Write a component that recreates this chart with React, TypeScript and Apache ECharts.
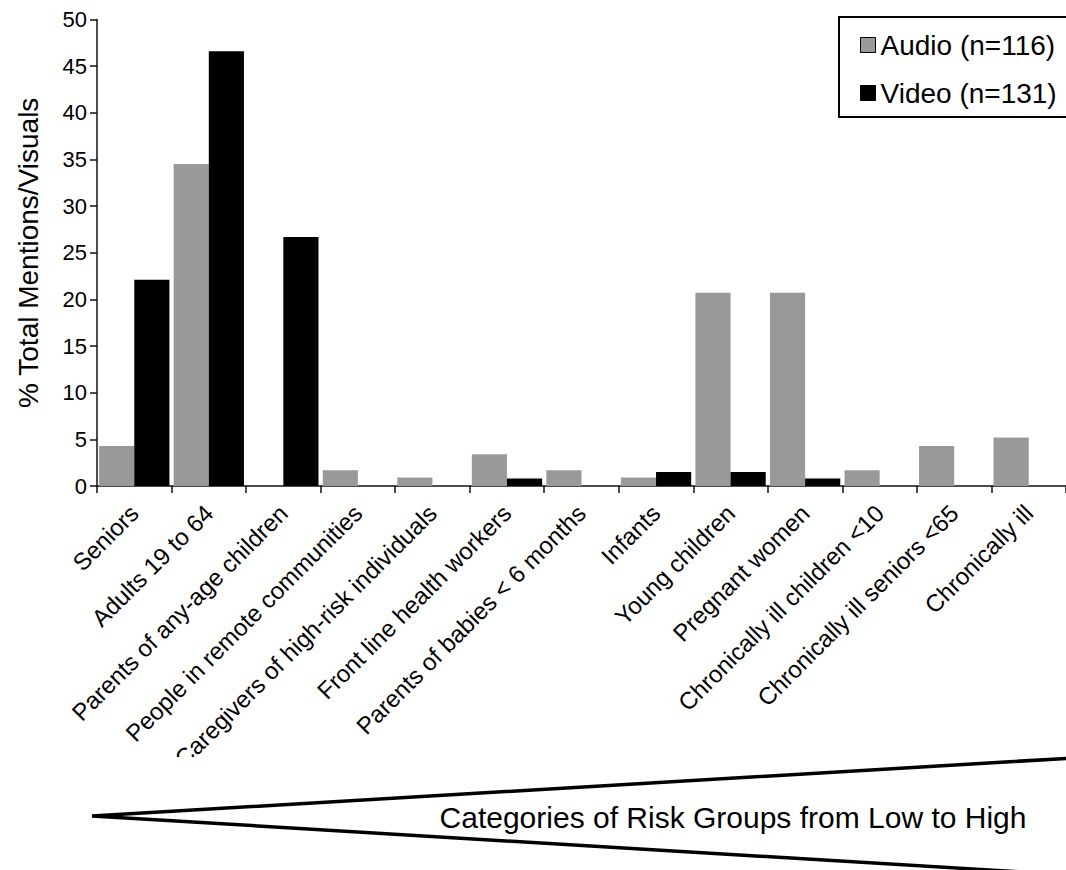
import React, { useEffect, useRef } from "react";
import * as echarts from "echarts";

const categories = [
  "Seniors",
  "Adults 19 to 64",
  "Parents of any-age children",
  "People in remote communities",
  "Caregivers of high-risk individuals",
  "Front line health workers",
  "Parents of babies < 6 months",
  "Infants",
  "Young children",
  "Pregnant women",
  "Chronically ill children <10",
  "Chronically ill seniors <65",
  "Chronically ill",
];

const audioValues = [4.3, 34.5, 0, 1.7, 0.9, 3.4, 1.7, 0.9, 20.7, 20.7, 1.7, 4.3, 5.2];
const videoValues = [22.1, 46.6, 26.7, 0, 0, 0.8, 0, 1.5, 1.5, 0.8, 0, 0, 0];

const audioName = "Audio (n=116)";
const videoName = "Video (n=131)";
const yAxisTitle = "% Total Mentions/Visuals";
const bottomCaption = "Categories of Risk Groups from Low to High";

const FONT = "'Liberation Sans', Arial, Helvetica, sans-serif";

export default function App() {
  const ref = useRef<HTMLDivElement>(null);

  useEffect(() => {
    if (!ref.current) return;
    const chart = echarts.init(ref.current, null, { renderer: "svg" });
    chart.setOption({
      animation: false,
      backgroundColor: "#ffffff",
      textStyle: { fontFamily: FONT, color: "#000" },
      grid: { left: 97, top: 19.5, width: 979, height: 466.5, containLabel: false },
      legend: {
        orient: "vertical",
        left: 839,
        top: 17,
        padding: [14, 45, 10, 21],
        itemGap: 20,
        itemWidth: 15,
        itemHeight: 15,
        icon: "rect",
        borderColor: "#000",
        borderWidth: 2,
        backgroundColor: "#fff",
        itemStyle: { borderColor: "#000", borderWidth: 1 },
        textStyle: { fontSize: 28, color: "#000", fontFamily: FONT },
        data: [audioName, videoName],
      },
      xAxis: {
        type: "category",
        data: categories,
        axisLine: { show: true, lineStyle: { color: "#111", width: 1.5 } },
        axisTick: { show: true, length: 7, lineStyle: { color: "#111", width: 1.5 } },
        axisLabel: {
          interval: 0,
          rotate: 45,
          fontSize: 24,
          margin: 23,
          color: "#000",
          fontFamily: FONT,
        },
      },
      yAxis: {
        type: "value",
        min: 0,
        max: 50,
        interval: 5,
        name: yAxisTitle,
        nameLocation: "middle",
        nameGap: 55,
        nameTextStyle: { fontSize: 28, color: "#000", fontFamily: FONT },
        splitLine: { show: false },
        axisLine: { show: true, lineStyle: { color: "#111", width: 1.5 } },
        axisTick: { show: true, length: 7, lineStyle: { color: "#111", width: 1.5 } },
        axisLabel: { fontSize: 22, margin: 10, color: "#000", fontFamily: FONT },
      },
      series: [
        {
          name: audioName,
          type: "bar",
          data: audioValues,
          barGap: "0%",
          barCategoryGap: "5.7%",
          itemStyle: { color: "#999999", borderWidth: 0 },
        },
        {
          name: videoName,
          type: "bar",
          data: videoValues,
          barGap: "0%",
          barCategoryGap: "5.7%",
          itemStyle: { color: "#000000", borderWidth: 0 },
        },
      ],
      graphic: [
        {
          type: "rect",
          z: 100,
          shape: { x: 100, y: 757, width: 300, height: 40 },
          style: { fill: "#ffffff" },
        },
        {
          type: "polyline",
          z: 101,
          shape: { points: [[1090, 757], [92, 816], [1090, 876]] },
          style: { stroke: "#000", lineWidth: 3.5, fill: null },
        },
        {
          type: "text",
          z: 102,
          x: 733,
          y: 817,
          style: {
            text: bottomCaption,
            fontSize: 30,
            fontFamily: FONT,
            fill: "#000",
            align: "center",
            verticalAlign: "middle",
          },
        },
      ],
    });
    return () => chart.dispose();
  }, []);

  return (
    <div
      ref={ref}
      style={{ position: "fixed", left: 0, top: 0, width: 1066, height: 870 }}
    />
  );
}
